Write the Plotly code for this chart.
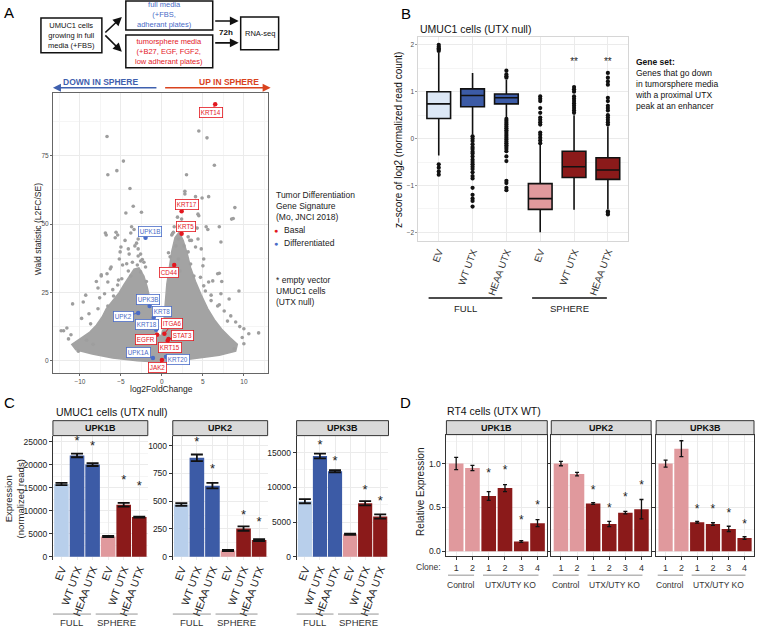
import plotly.graph_objects as go

W, H = 757, 631
def px(x): return x / W
def py(y): return 1 - y / H

FONT = "Liberation Sans, Arial, sans-serif"
RED = "#e3171f"
BLUE = "#4a6cc7"
LBLUE_BOX = "#dce7f5"
BLUE_BOX = "#3c5ba6"
PINK = "#e0999d"
DRED = "#8b1a1a"
LBLUE_BAR = "#b8cfeb"

# ---------------- Panel A : volcano data ----------------
# dense core of genes (outline)
blob_x = [0, -3, -6, -8.5, -10.5, -11, -10, -8.8, -8, -7.3, -6.8, -6, -5.2, -4.6, -4.0, -3.4, -2.8,
          -2.2, -1.8, -1.5, -1.3, -1.2, -1.0, -0.6, -0.1, 0.2, 0.3, 0.4, 0.6, 0.9, 1.2, 1.6, 2.1, 2.6,
          3.1, 3.5, 4.1, 4.8, 5.6, 6.4, 7.3, 8.3, 9.2, 9, 7, 4, 2]
blob_y = [-0.5, 0, 1, 2.5, 4, 6, 8, 10.5, 13, 16, 19, 22, 25, 28, 31, 33.5, 34,
          31, 27, 23, 19, 16, 13, 10, 9, 12, 17, 22, 28, 34, 40, 45, 47, 44,
          39, 34, 29, 24, 19, 15, 11.5, 8.5, 6, 3.5, 2, 0.8, 0]

pts_x = [-6.7, 4.5, 5.5, 6.4, -4.7, -5.5, -6.6, 3.0, -3.9, 2.8, 2.8, 4.1, 4.9, 5.7, 8.9, 8.7, -3.5, -4.4,
         -2.5, 7.0, 7.2, -6.9, -5.6, -5.4, 5.4, 5.6, 4.5, 4.0, 7.0, 7.3, -8.0, -7.4,
         -6.8, -5.7, -4.5, -3.7, -3.4, -3.8, -2.9, -5.0, -5.1, -4.1, -2.9, -5.2, -4.0, -2.9, -2.6,
         -6.2, -6.3, -7.4, -6.7, -5.4, -4.1, -3.8, -2.6, -2.0,
         2.4, 2.4, 4.4, 3.9, 4.3, 3.2, 2.0, 1.7, 2.7, 3.2, 4.1, 4.8, 5.1, 5.0, 3.5, 2.0, 2.2, 3.9,
         6.8, 5.7, 8.5,
         -10.9, -12.0, -12.3, -11.6, -11.1, -9.6, -9.3, -7.8, -6.6, -8.9, -7.8, -6.6, -5.9, -8.7,
         10.6, 11.8, 10.0, 9.0, 8.4, 7.6, 6.8, 8.2, 9.4, 7.2, 5.1, 6.2, 10.0, 8.8,
         -9.8, -9.2, -8.4, -7.6, -11.4, -10.2, 9.8, 9.5, 8.0, 6.0, -3.1, -4.8, 1.2, 3.6, 2.6, 1.4,
         -3.6, -4.3, -2.4, -3.0, -4.9, -2.2, -3.3, 1.5, 2.9, 1.0, 3.4, 2.5, 4.4, 1.9, 0.8, -1.9,
         -6.0, -7.0, -5.3, 6.0, 7.0, 5.3, 4.7, -2.6, 1.3, 2.1]
pts_y = [82, 84, 81.5, 71.5, 73, 69.5, 68, 68, 63, 62, 61, 60, 59.5, 60, 56, 52, 56.5, 54,
         54.3, 49, 43.4, 46.7, 47, 46, 49, 48, 53, 49, 32, 29, 29, 31,
         46, 45, 44, 49, 48, 46.7, 44.5, 41.6, 39.8, 40.9, 40.9, 37.2, 39, 38.3, 36.5,
         34.3, 33.6, 31.4, 31.8, 27.7, 32.8, 31, 32.5, 34.3,
         51.8, 50, 53.6, 49.3, 48.5, 45.3, 44.5, 42, 42, 39.8, 41.6, 40.9, 37.2, 34.7, 35.4, 37.2, 32.8, 31,
         31.8, 28.8, 51.8,
         20.8, 11, 11, 12, 9.5, 21.5, 24, 26.6, 28.8, 17.2, 19, 20, 23.7, 13.5,
         9.9, 10.2, 11.7, 14.2, 16.4, 18.2, 20, 22.6, 25.5, 24.5, 27.4, 29.2, 6.2, 4.4,
         15.5, 7.5, 6.0, 23.0, 8.0, 3.5, 8.5, 12.5, 14.5, 24.0, 43.0, 35.0, 46.0, 44.0, 56.0, 47.0,
         36.0, 35.5, 37.0, 35.0, 30.0, 36.0, 42.0, 49.0, 48.0, 38.0, 44.0, 55.5, 44.5, 52.5, 39.5, 29.0,
         26.0, 24.5, 29.5, 22.0, 20.5, 25.5, 30.5, 39.0, 46.5, 50.5]

genes = ["KRT14", "KRT17", "KRT5", "UPK1B", "CD44", "UPK3B", "UPK2", "KRT8", "KRT18",
         "ITGA6", "STAT3", "EGFR", "KRT15", "UPK1A", "KRT20", "JAK2"]
gene_lfc = [6.5, 2.4, 2.4, -2.0, 1.5, -1.5, -2.9, -1.0, -0.7, 0.3, 0.8, -0.6, 0.7, -1.1, 0.5, 0.0]
gene_wald = [93.8, 54.7, 46.4, 45.0, 35.0, 20.0, 17.5, 15.7, 11.3, 9.9, 8.0, 9.5, 7.3, 1.0, 1.5, 0.3]
gene_type = ["Basal", "Basal", "Basal", "Differentiated", "Basal", "Differentiated", "Differentiated",
             "Differentiated", "Differentiated", "Basal", "Basal", "Basal", "Basal",
             "Differentiated", "Differentiated", "Basal"]
# label offsets in pixels (layout only)
lab_dx = [-4, 5, 4, 4, -5, -2, -15, 8, -9, 8, 14, -11, 2, -14, 12, -4]
lab_dy = [8, -7, -7, -6, 7, -7, 4, -6, -5, -10, -3, 5, 7, -6, 3, 8]

# ---------------- Panel B : box plot stats ----------------
b_cats = ["EV", "WT UTX", "HEAA UTX", "EV", "WT UTX", "HEAA UTX"]
b_q1 = [0.43, 0.68, 0.74, -1.51, -0.83, -0.87]
b_med = [0.74, 0.92, 0.87, -1.28, -0.60, -0.67]
b_q3 = [1.00, 1.06, 0.95, -0.96, -0.27, -0.41]
b_lo = [-0.36, 0.08, 0.45, -2.00, -1.52, -1.50]
b_hi = [1.83, 1.40, 1.25, -0.13, 0.50, 0.25]
b_out = [
    [1.87, 1.90, 1.93, 1.96, 2.0, -0.55, -0.62, -0.70, -0.77],
    [0.05, 0.0, -0.05, -0.12, -0.18, -0.22, -0.28, -0.32, -0.38, -0.45, -0.5, -0.55, -0.6, -0.65,
     -0.72, -0.8, -0.85, -1.05, -1.2, -1.28, -1.33, -1.45],
    [1.3, 1.33, 1.37, 1.45, 0.42, 0.38, 0.34, 0.3, 0.26, 0.22, 0.18, 0.14, 0.1, 0.06, 0.02, -0.02,
     -0.06, -0.1, -0.14, -0.18, -0.22, -0.27, -0.38, -0.48, -0.9, -0.95, -1.05, -1.1],
    [-0.1, -0.04, 0.02, 0.08, 0.13, 0.3, 0.35, 0.4, 0.45, 0.55, 0.65, 0.8, 0.85, 0.9],
    [0.55, 0.6, 0.65, 0.7, 0.75, 0.8, 0.85, 0.9, 1.0, 1.05, 1.1],
    [0.3, 0.35, 0.4, 0.45, 0.5, 0.6, 0.65, 0.7, 0.8, 0.87, 1.15, 1.22, 1.3, 1.4, -1.55, -1.58, -1.62],
]
b_fill = [LBLUE_BOX, BLUE_BOX, BLUE_BOX, PINK, DRED, DRED]
b_sig = ["", "", "", "", "**", "**"]
b_sig_y = [None, None, None, None, 1.62, 1.62]

# ---------------- Panel C : bars ----------------
c_genes = ["UPK1B", "UPK2", "UPK3B"]
c_cats = ["EV", "WT UTX", "HEAA UTX", "EV", "WT UTX", "HEAA UTX"]
c_vals = [[15800, 22000, 20000, 4400, 11300, 8600],
          [471, 890, 640, 56, 254, 150],
          [8000, 14500, 12300, 3230, 7700, 5800]]
c_err = [[250, 400, 300, 120, 400, 120],
         [12, 30, 25, 5, 20, 8],
         [300, 350, 150, 80, 300, 300]]
c_star_y = [[None, 25000, 23900, None, 16560, 15260],
            [None, 1027, 785, None, 372, 309],
            [None, 16000, 13700, None, 9540, 7960]]
c_colors = [LBLUE_BAR, BLUE_BOX, BLUE_BOX, PINK, DRED, DRED]
c_range = [[-758, 26300], [-31, 1090], [-502, 17440]]
c_dtick = [5000, 250, 5000]

# ---------------- Panel D : bars ----------------
d_genes = ["UPK1B", "UPK2", "UPK3B"]
d_clone = ["1", "2", "1", "2", "3", "4"]
d_vals = [[1.0, 0.95, 0.63, 0.72, 0.11, 0.32],
          [1.0, 0.88, 0.545, 0.31, 0.44, 0.48],
          [1.0, 1.17, 0.33, 0.31, 0.255, 0.15]]
d_err = [[0.07, 0.03, 0.05, 0.04, 0.01, 0.04],
         [0.025, 0.02, 0.01, 0.03, 0.015, 0.11],
         [0.04, 0.09, 0.01, 0.015, 0.03, 0.015]]
d_star_y = [[None, None, 0.875, 0.91, 0.34, 0.52],
            [None, None, 0.69, 0.48, 0.61, 0.74],
            [None, None, 0.47, 0.47, 0.42, 0.30]]
d_colors = [PINK, PINK, DRED, DRED, DRED, DRED]

fig = go.Figure()
ann = []
shapes = []

def A(text, x, y, size=9, color="#222", bold=False, xanchor="center", yanchor="middle", angle=0,
      align="center", **kw):
    if bold:
        text = "<b>" + text + "</b>"
    d = dict(text=text, x=px(x), y=py(y), xref="paper", yref="paper", showarrow=False,
             font=dict(family=FONT, size=size, color=color), xanchor=xanchor, yanchor=yanchor,
             textangle=angle, align=align)
    d.update(kw)
    ann.append(d)

# ================= Panel A =================
A("A", 8, 13, size=15, color="#000")
for (x0, y0, x1, y1) in [(40, 18, 101, 53), (125, 1, 212, 30), (125, 35, 212, 68), (240, 17, 278, 50)]:
    shapes.append(dict(type="rect", xref="paper", yref="paper", x0=px(x0), x1=px(x1), y0=py(y0), y1=py(y1),
                       line=dict(color="#111", width=1.5), fillcolor="white", layer="above"))
A("UMUC1 cells<br>growing in full<br>media (+FBS)", 70.5, 35.5, size=7.5, color="#111")
A("full media<br>(+FBS,<br>adherant plates)", 164, 15, size=7.5, color=BLUE)
A("tumorsphere media<br>(+B27, EGF, FGF2,<br>low adherant plates)", 168, 51.5, size=7.5, color=RED)
A("RNA-seq", 259, 33.5, size=7.5, color="#111")
A("72h", 225, 33, size=8, color="#111", bold=True)
for (hx, hy, tx, ty) in [(121, 17, 103, 34), (121, 52, 103, 34), (238, 21, 213, 21), (238, 43, 213, 43)]:
    ann.append(dict(x=px(hx), y=py(hy), xref="paper", yref="paper", text="", showarrow=True,
                    ax=tx - hx, ay=ty - hy, arrowhead=2, arrowsize=1.1, arrowwidth=1.6, arrowcolor="#111"))
for (hx, tx, col) in [(52, 157, "#3f60ae"), (270, 163, "#d9431e")]:
    ann.append(dict(x=px(hx), y=py(88), xref="paper", yref="paper", text="", showarrow=True,
                    ax=tx - hx, ay=0, arrowhead=2, arrowsize=1.0, arrowwidth=1.6, arrowcolor=col))
A("DOWN IN SPHERE", 100, 82, size=8.5, color="#3f60ae", bold=True)
A("UP IN SPHERE", 228, 82, size=8.5, color="#d9431e", bold=True)

fig.add_trace(go.Scatter(x=blob_x, y=blob_y, fill="toself", fillcolor="#a3a3a3", mode="lines",
                         line=dict(width=1.5, color="#a3a3a3"), xaxis="x", yaxis="y",
                         hoverinfo="skip", showlegend=False))
fig.add_trace(go.Scatter(x=pts_x, y=pts_y, mode="markers", marker=dict(size=3.6, color="#9e9e9e"),
                         xaxis="x", yaxis="y", hoverinfo="skip", showlegend=False))
g_col = [RED if t == "Basal" else BLUE for t in gene_type]
fig.add_trace(go.Scatter(x=gene_lfc, y=gene_wald, mode="markers", marker=dict(size=4.5, color=g_col),
                         xaxis="x", yaxis="y", hoverinfo="skip", showlegend=False))
for g, gx, gy, c, dx, dy in zip(genes, gene_lfc, gene_wald, g_col, lab_dx, lab_dy):
    ann.append(dict(x=gx, y=gy, xref="x", yref="y", text=g, showarrow=True, ax=dx, ay=dy,
                    arrowhead=0, arrowwidth=1, arrowcolor=c, standoff=0,
                    font=dict(family=FONT, size=6.3, color=c), bordercolor=c, borderwidth=0.8,
                    borderpad=1, bgcolor="white"))
A("Wald statistic (L2FC/SE)", 37, 230, size=8.5, color="#222", angle=-90)
A("log2FoldChange", 161, 390, size=8.5, color="#222")
A("Tumor Differentiation<br>Gene Signature<br>(Mo, JNCI 2018)", 273, 207, size=8.5, color="#222",
  xanchor="left", align="left")
A("●", 275, 231, size=7, color=RED)
A("Basal", 281, 231, size=8.5, color="#222", xanchor="left")
A("●", 275, 244, size=7, color=BLUE)
A("Differentiated", 281, 244, size=8.5, color="#222", xanchor="left")
A("* empty vector<br>UMUC1 cells<br>(UTX null)", 273, 292, size=8.5, color="#222", xanchor="left", align="left")

# ================= Panel B =================
A("B", 406, 14, size=15, color="#000")
A("UMUC1 cells (UTX null)", 418, 29, size=10.5, color="#111", xanchor="left")
for i in range(6):
    fig.add_trace(go.Box(x=[i], q1=[b_q1[i]], median=[b_med[i]], q3=[b_q3[i]], lowerfence=[b_lo[i]],
                         upperfence=[b_hi[i]], width=0.7, fillcolor=b_fill[i],
                         line=dict(color="#111", width=1.6), whiskerwidth=0, boxpoints=False,
                         xaxis="x2", yaxis="y2", hoverinfo="skip", showlegend=False))
    fig.add_trace(go.Scatter(x=[i] * len(b_out[i]), y=b_out[i], mode="markers",
                             marker=dict(size=4.2, color="#111"), xaxis="x2", yaxis="y2",
                             hoverinfo="skip", showlegend=False))
    if b_sig[i]:
        fig.add_trace(go.Scatter(x=[i], y=[b_sig_y[i]], mode="text", text=[b_sig[i]],
                                 textfont=dict(family=FONT, size=10, color="#222"),
                                 xaxis="x2", yaxis="y2", hoverinfo="skip", showlegend=False))
A("z−score of log2 (normalized read count)", 398, 140, size=10, color="#111", angle=-90)
A("<b>Gene set:</b><br>Genes that go down<br>in tumorsphere media<br>with a proximal UTX<br>peak at an enhancer",
  633, 84, size=8.5, color="#111", xanchor="left", align="left")
for (x0, x1, lab) in [(-0.3, 1.88, "FULL"), (2.76, 4.97, "SPHERE")]:
    shapes.append(dict(type="line", xref="x2", yref="paper", x0=x0, x1=x1, y0=py(299), y1=py(299),
                       line=dict(color="#111", width=1.5)))
    ann.append(dict(text=lab, x=(x0 + x1) / 2, y=py(309), xref="x2", yref="paper", showarrow=False,
                    xanchor="center", yanchor="middle",
                    font=dict(family=FONT, size=9.5, color="#222")))

# ================= Panel C =================
A("C", 9, 404, size=15, color="#000")
A("UMUC1 cells (UTX null)", 53, 413, size=10.5, color="#111", xanchor="left")
c_dom = [(52, 147), (172, 267), (296, 388)]
for k in range(3):
    xa = "x%d" % (3 + k)
    ya = "y%d" % (3 + k)
    fig.add_trace(go.Bar(x=list(range(6)), y=c_vals[k], marker=dict(color=c_colors, line=dict(width=0)),
                         width=0.94,
                         error_y=dict(type="data", array=c_err[k], color="#111", thickness=1.8, width=6),
                         xaxis=xa, yaxis=ya, hoverinfo="skip", showlegend=False))
    sx = [i for i in range(6) if c_star_y[k][i] is not None]
    sy = [c_star_y[k][i] for i in sx]
    fig.add_trace(go.Scatter(x=sx, y=sy, mode="text", text=["*"] * len(sx),
                             textfont=dict(family=FONT, size=13, color="#222"), textposition="middle center",
                             xaxis=xa, yaxis=ya, hoverinfo="skip", showlegend=False))
    x0, x1 = c_dom[k]
    shapes.append(dict(type="rect", xref="paper", yref="paper", x0=px(x0), x1=px(x1), y0=py(437), y1=py(422),
                       fillcolor="#d9d9d9", line=dict(color="#333", width=1)))
    A(c_genes[k], (x0 + x1) / 2, 429.5, size=9, color="#111", bold=True)
    for (g0, g1, lab) in [(-0.58, 1.9, "FULL"), (2.2, 4.9, "SPHERE")]:
        shapes.append(dict(type="line", xref=xa, yref="paper", x0=g0, x1=g1, y0=py(616), y1=py(616),
                           line=dict(color="#777", width=0.8)))
        ann.append(dict(text=lab, x=(g0 + g1) / 2, y=py(624), xref=xa, yref="paper", showarrow=False,
                        xanchor="center", yanchor="middle",
                        font=dict(family=FONT, size=9.5, color="#333")))
A("Expression<br>(normalized reads)", 13, 500, size=9.5, color="#222", angle=-90)

# ================= Panel D =================
A("D", 405, 404, size=15, color="#000")
A("RT4 cells (UTX WT)", 445, 412, size=10.5, color="#111", xanchor="left")
d_dom = [(446, 547), (551, 651), (656, 754)]
for k in range(3):
    xa = "x%d" % (6 + k)
    ya = "y%d" % (6 + k)
    fig.add_trace(go.Bar(x=list(range(6)), y=d_vals[k], marker=dict(color=d_colors, line=dict(width=0)),
                         width=0.9,
                         error_y=dict(type="data", array=d_err[k], color="#111", thickness=1.3, width=2),
                         xaxis=xa, yaxis=ya, hoverinfo="skip", showlegend=False))
    sx = [i for i in range(6) if d_star_y[k][i] is not None]
    sy = [d_star_y[k][i] for i in sx]
    fig.add_trace(go.Scatter(x=sx, y=sy, mode="text", text=["*"] * len(sx),
                             textfont=dict(family=FONT, size=12, color="#222"), textposition="middle center",
                             xaxis=xa, yaxis=ya, hoverinfo="skip", showlegend=False))
    x0, x1 = d_dom[k]
    shapes.append(dict(type="rect", xref="paper", yref="paper", x0=px(x0), x1=px(x1), y0=py(436), y1=py(422),
                       fillcolor="#d9d9d9", line=dict(color="#333", width=1)))
    A(d_genes[k], (x0 + x1) / 2, 429, size=9, color="#111", bold=True)
    for (g0, g1, lab) in [(-0.5, 1.1, "Control"), (1.65, 5.06, "UTX/UTY KO")]:
        shapes.append(dict(type="line", xref=xa, yref="paper", x0=g0, x1=g1, y0=py(577), y1=py(577),
                           line=dict(color="#777", width=0.8)))
        ann.append(dict(text=lab, x=(g0 + g1) / 2, y=py(587), xref=xa, yref="paper", showarrow=False,
                        xanchor="center", yanchor="middle",
                        font=dict(family=FONT, size=8.5, color="#333")))
A("Clone:", 443, 569, size=8.5, color="#333", xanchor="right")
A("Relative Expression", 420, 493, size=10, color="#222", angle=-90)

# ================= axes =================
GRID = "#ebebeb"
MINOR = "#f5f5f5"
lay = dict(width=W, height=H, margin=dict(l=0, r=0, t=0, b=0), paper_bgcolor="white",
           plot_bgcolor="white", showlegend=False, boxmode="overlay", bargap=0.05,
           font=dict(family=FONT), annotations=ann, shapes=shapes)

lay["xaxis"] = dict(domain=[px(52), px(267)], anchor="y", range=[-13.3, 12.9], tick0=0, dtick=5,
                    showgrid=True, gridcolor=GRID, zeroline=False, showline=True, mirror=True,
                    linecolor="#666", linewidth=1, ticks="outside", ticklen=2, tickcolor="#666",
                    tickfont=dict(size=6.5, color="#4d4d4d"),
                    minor=dict(dtick=2.5, showgrid=True, gridcolor=MINOR))
lay["yaxis"] = dict(domain=[py(374), py(93)], anchor="x", range=[-4.4, 98], tick0=0, dtick=25,
                    showgrid=True, gridcolor=GRID, zeroline=False, showline=True, mirror=True,
                    linecolor="#666", linewidth=1, ticks="outside", ticklen=2, tickcolor="#666",
                    tickfont=dict(size=6.5, color="#4d4d4d"),
                    minor=dict(dtick=12.5, showgrid=True, gridcolor=MINOR))
lay["xaxis2"] = dict(domain=[px(418), px(628)], anchor="y2", range=[-0.6, 5.6], tickmode="array",
                     tickvals=list(range(6)), ticktext=b_cats, tickangle=-70,
                     tickfont=dict(size=9.8, color="#333"), showgrid=True, gridcolor=GRID, zeroline=False,
                     showline=True, mirror=True, linecolor="#d6d6d6", ticks="")
lay["yaxis2"] = dict(domain=[py(242), py(37)], anchor="x2", range=[-2.19, 2.17], tick0=0, dtick=1,
                     showgrid=True, gridcolor=GRID, zeroline=False, showline=True, mirror=True,
                     linecolor="#d6d6d6", ticks="outside", ticklen=2, tickcolor="#999",
                     tickfont=dict(size=6.5, color="#4d4d4d"),
                     minor=dict(dtick=0.5, showgrid=True, gridcolor=MINOR))
for k in range(3):
    x0, x1 = c_dom[k]
    lay["xaxis%d" % (3 + k)] = dict(domain=[px(x0), px(x1)], anchor="y%d" % (3 + k), range=[-0.55, 5.55],
                                    tickmode="array", tickvals=list(range(6)), ticktext=c_cats, tickangle=-70,
                                    tickfont=dict(size=10.5, color="#222"), showgrid=True, gridcolor=GRID,
                                    zeroline=False, showline=False, ticks="")
    lay["yaxis%d" % (3 + k)] = dict(domain=[py(562), py(437)], anchor="x%d" % (3 + k), range=c_range[k],
                                    tick0=0, dtick=c_dtick[k], tickformat="d", showgrid=True, gridcolor=GRID,
                                    zeroline=False, showline=True, linecolor="#333", linewidth=1,
                                    ticks="outside", ticklen=3,
                                    tickcolor="#333", tickfont=dict(size=8.5, color="#222"),
                                    minor=dict(dtick=c_dtick[k] / 2, showgrid=True, gridcolor=MINOR))
    x0, x1 = d_dom[k]
    lay["xaxis%d" % (6 + k)] = dict(domain=[px(x0), px(x1)], anchor="y%d" % (6 + k), range=[-0.6, 5.6],
                                    tickmode="array", tickvals=list(range(6)), ticktext=d_clone,
                                    tickfont=dict(size=9, color="#333"), showgrid=True, gridcolor=GRID,
                                    zeroline=False, showline=True, mirror=True, linecolor="#333",
                                    ticks="outside", ticklen=3, tickcolor="#333")
    lay["yaxis%d" % (6 + k)] = dict(domain=[py(558), py(436)], anchor="x%d" % (6 + k), range=[-0.057, 1.33],
                                    tick0=0, dtick=0.5, tickformat=".1f", showgrid=True, gridcolor=GRID,
                                    zeroline=False, showline=True, mirror=True, linecolor="#333",
                                    ticks="outside", ticklen=3, tickcolor="#333",
                                    showticklabels=(k == 0), tickfont=dict(size=8.5, color="#222"),
                                    minor=dict(dtick=0.25, showgrid=True, gridcolor=MINOR))

fig.update_layout(**lay)
fig.write_html("out.html", config={"displayModeBar": False, "staticPlot": True},
               post_script="document.body.style.margin='0';document.body.style.overflow='hidden';")
